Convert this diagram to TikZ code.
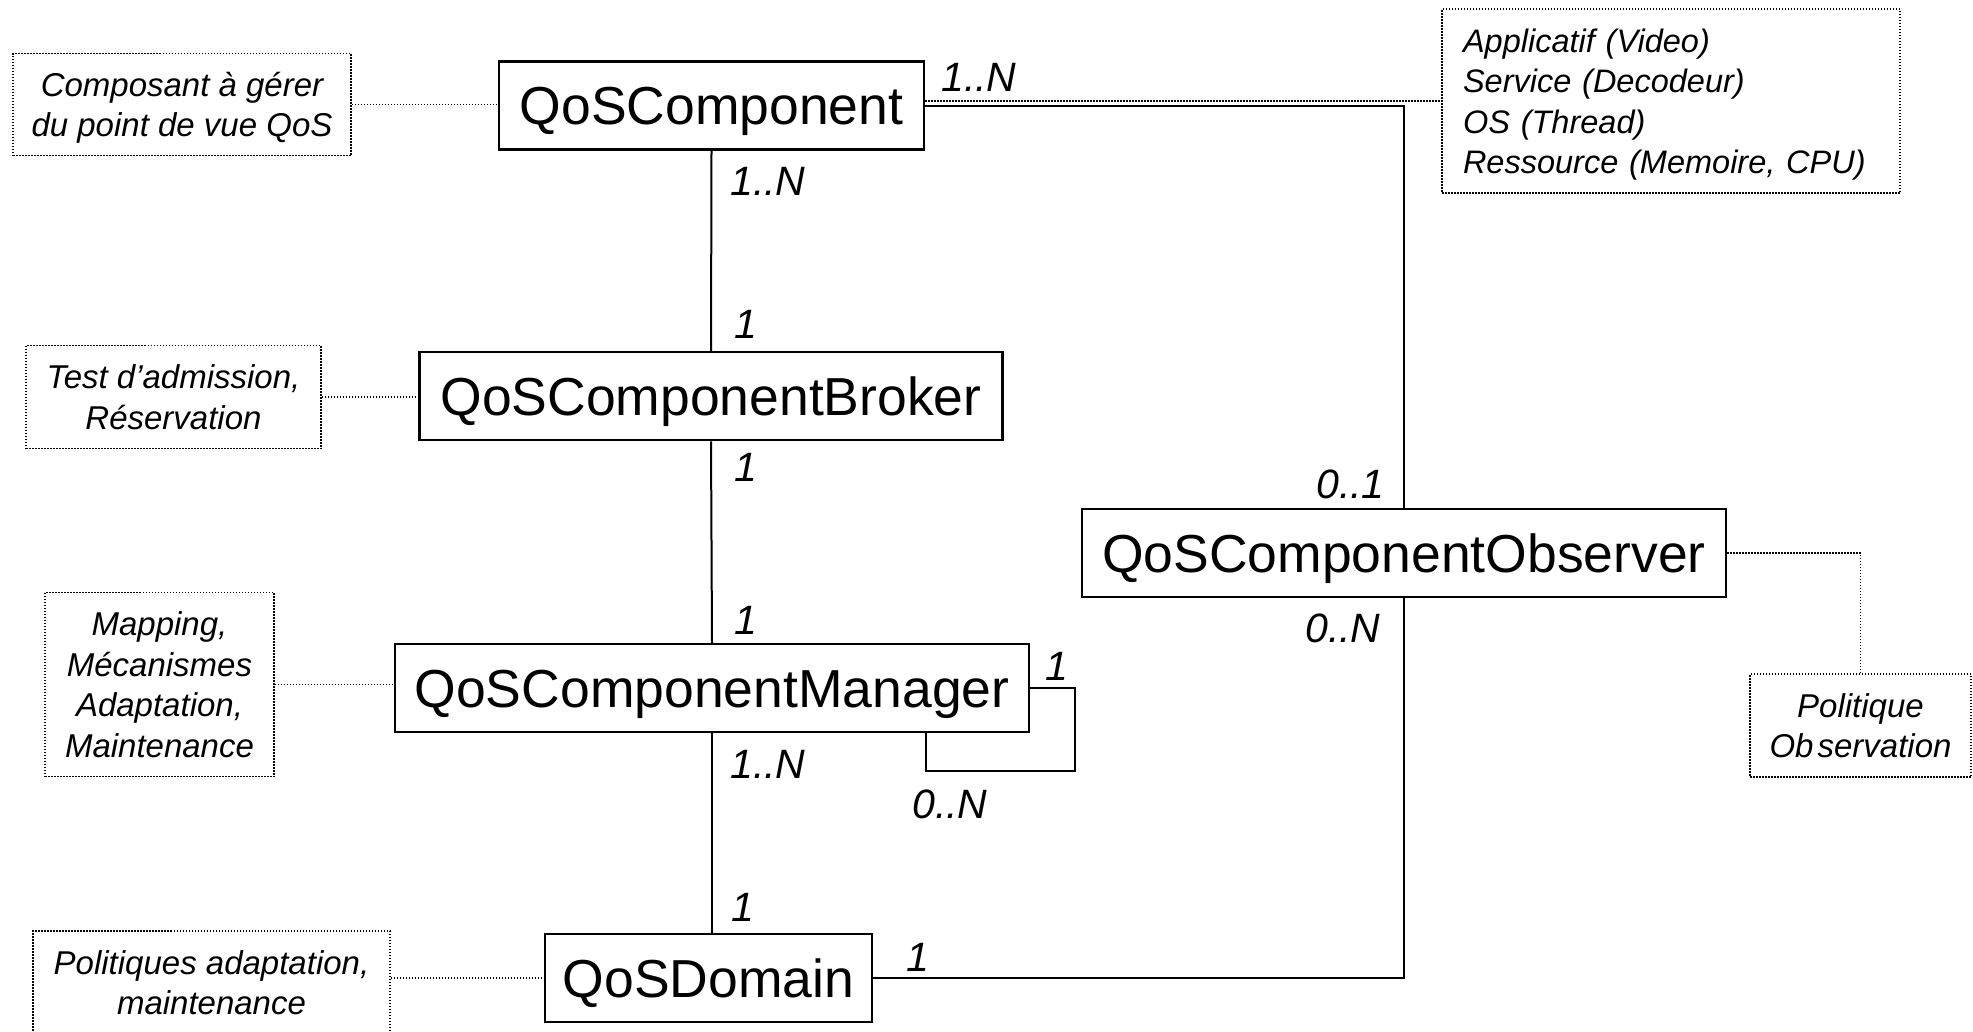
\documentclass[tikz,border=0pt]{standalone}
\usepackage{fontspec}
\setmainfont{Liberation Sans}
\begin{document}
\begin{tikzpicture}[x=1pt,y=-1pt,
  cls/.style={draw, line width=2.5pt, inner sep=0pt, minimum height=88pt,
    font=\fontsize{53.5}{60}\selectfont, text height=38.3pt, text depth=0pt},
  note/.style={draw, line width=1.7pt, dash pattern=on 1.5pt off 1.5pt,
    inner sep=0pt, align=center, text depth=0pt,
    font=\fontsize{33}{40.5}\selectfont\itshape},
  two lines/.style={text height=64.1pt},
  four lines/.style={text height=145.1pt},
  link/.style={line width=2pt},
  tie/.style={line width=1.7pt, dash pattern=on 1.5pt off 1.5pt},
  mult/.style={inner sep=0pt, anchor=base west,
    font=\fontsize{41}{48}\selectfont\itshape}]
\useasboundingbox (0,0) rectangle (1973,1031);

% classes
\node[cls, minimum width=425pt] (comp)   at (711.5,105.5) {QoSComponent};
\node[cls, minimum width=583pt] (broker) at (711,396)     {QoSComponentBroker};
\node[cls, minimum width=634pt] (mgr)    at (712,688)     {QoSComponentManager};
\node[cls, minimum width=327pt] (dom)    at (708.5,978)   {QoSDomain};
\node[cls, minimum width=644pt] (obs)    at (1404,553)    {QoSComponentObserver};

% comments
\node[note, two lines, minimum width=338pt, minimum height=102pt] (n1) at (182,104.5)
  {Composant à gérer\\du point de vue QoS};
\node[note, minimum width=458pt, minimum height=184pt, align=left, text width=416pt,
      inner xsep=21pt, text height=23.6pt, text depth=121.5pt,
      font=\fontsize{32.5}{40.5}\selectfont\itshape] (n2) at (1671,101)
  {Applicatif (Video)\\Service (Decodeur)\\OS (Thread)\\Ressource (Memoire, CPU)};
\node[note, two lines, minimum width=295pt, minimum height=103pt] (n3) at (173.5,397)
  {Test d’admission,\\Réservation};
\node[note, four lines, minimum width=229pt, minimum height=184pt] (n4) at (159.5,684.5)
  {Mapping,\\Mécanismes\\Adaptation,\\Maintenance};
\node[note, two lines, minimum width=357pt, minimum height=103pt] (n5) at (211.5,982.5)
  {Politiques adaptation,\\maintenance};
\node[note, two lines, minimum width=221pt, minimum height=103pt] (n6) at (1860.5,725.5)
  {Politique\\Ob\kern4pt servation};

% associations
\draw[link] (comp.south) -- (broker.north);
\draw[link] (broker.south) -- (mgr.north);
\draw[link] (mgr.south) -- (mgr.south |- dom.north);
\draw[link] (comp.east) -- (comp.east -| obs.north) -- (obs.north);
\draw[link] (dom.east) -- (dom.east -| obs.south) -- (obs.south);
\coordinate (loop) at (1075,771);
\draw[link] (mgr.east) -| (loop) -| ([xshift=214pt]mgr.south);

% comment ties
\draw[tie] (n1.east) -- (n1.east -| comp.west);
\draw[tie] (comp.east |- n2.west) -- (n2.west);
\draw[tie] (n3.east) -- (n3.east -| broker.west);
\draw[tie] (n4.east) -- (n4.east -| mgr.west);
\draw[tie] (dom.west -| n5.east) -- (dom.west);
\draw[tie] (obs.east) -| (n6.north);

% multiplicities
\node[mult] (m1)  at (941,91)   {1..N};
\node[mult] (m2)  at (730,195)  {1..N};
\node[mult] (m3)  at (734,338)  {1};
\node[mult] (m4)  at (734,481)  {1};
\node[mult] (m5)  at (734,634)  {1};
\node[mult] (m6)  at (1045,680) {1};
\node[mult] (m7)  at (912,818)  {0..N};
\node[mult] (m8)  at (730,778)  {1..N};
\node[mult] (m9)  at (731,921)  {1};
\node[mult] (m10) at (906,971)  {1};
\node[mult] (m11) at (1316,498) {0..1};
\node[mult] (m12) at (1305,642) {0..N};
\end{tikzpicture}
\end{document}
